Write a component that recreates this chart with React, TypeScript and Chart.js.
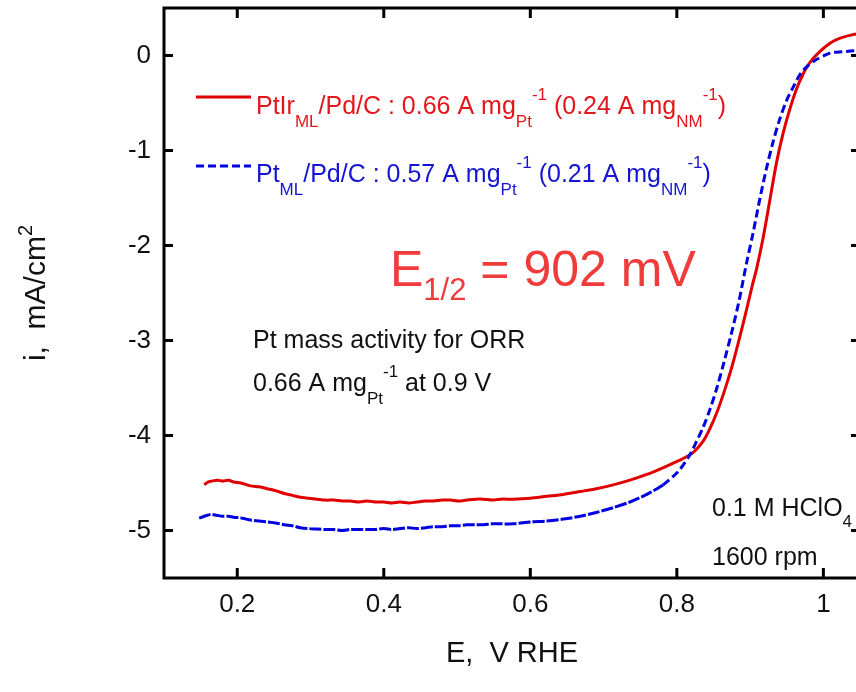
import React, { useEffect, useRef } from "react";
import { Chart, registerables } from "chart.js";

Chart.register(...registerables);

const FONT = '"Liberation Sans", Arial, Helvetica, sans-serif';

// PtIr_ML/Pd/C (red, solid)
const ptIrE = [
  0.155, 0.16, 0.165, 0.173, 0.18, 0.188, 0.195, 0.205, 0.218, 0.23, 0.241, 0.252, 0.264, 0.275, 0.286,
  0.298, 0.309, 0.32, 0.332, 0.343, 0.354, 0.366, 0.377, 0.388, 0.4, 0.411, 0.422, 0.434, 0.445, 0.457,
  0.468, 0.48, 0.491, 0.502, 0.513, 0.525, 0.536, 0.548, 0.559, 0.577, 0.6, 0.622, 0.645, 0.668, 0.69,
  0.713, 0.736, 0.759, 0.781, 0.804, 0.822, 0.836, 0.845, 0.855, 0.865, 0.875, 0.885, 0.895, 0.903,
  0.909, 0.918, 0.927, 0.936, 0.945, 0.954, 0.963, 0.972, 0.981, 0.995, 1.009, 1.022, 1.04, 1.05,
];
const ptIrI = [
  -4.52, -4.49, -4.48, -4.47, -4.48, -4.47, -4.49, -4.5, -4.53, -4.54, -4.56, -4.58, -4.61, -4.63, -4.65,
  -4.66, -4.67, -4.68, -4.68, -4.69, -4.69, -4.7, -4.69, -4.7, -4.7, -4.71, -4.7, -4.71, -4.7, -4.69,
  -4.69, -4.68, -4.68, -4.69, -4.68, -4.67, -4.67, -4.68, -4.67, -4.67, -4.66, -4.64, -4.62, -4.59, -4.56,
  -4.52, -4.47, -4.41, -4.34, -4.26, -4.18, -4.06, -3.93, -3.75, -3.53, -3.28, -2.99, -2.68, -2.42,
  -2.24, -1.91, -1.52, -1.13, -0.82, -0.57, -0.36, -0.2, -0.08, 0.04, 0.13, 0.18, 0.22, 0.23,
];

// Pt_ML/Pd/C (blue, dashed)
const ptE = [
  0.148, 0.155, 0.164, 0.172, 0.18, 0.188, 0.195, 0.207, 0.218, 0.23, 0.241, 0.252, 0.264, 0.275, 0.286,
  0.298, 0.309, 0.32, 0.332, 0.343, 0.354, 0.366, 0.377, 0.388, 0.4, 0.411, 0.422, 0.434, 0.445, 0.457,
  0.468, 0.48, 0.491, 0.502, 0.513, 0.525, 0.536, 0.548, 0.559, 0.577, 0.6, 0.622, 0.645, 0.668, 0.69,
  0.713, 0.736, 0.759, 0.781, 0.795, 0.804, 0.818, 0.827, 0.835, 0.845, 0.855, 0.865, 0.875, 0.885,
  0.895, 0.904, 0.913, 0.922, 0.931, 0.94, 0.95, 0.959, 0.968, 0.977, 0.99, 1.009, 1.027, 1.043, 1.05,
];
const ptI = [
  -4.87, -4.85, -4.83, -4.84, -4.85, -4.85, -4.86, -4.87, -4.89, -4.9, -4.91, -4.92, -4.94, -4.95, -4.97,
  -4.98, -4.985, -4.99, -4.99, -5.0, -4.99, -4.99, -4.99, -4.99, -4.98, -4.99, -4.98, -4.97, -4.98, -4.97,
  -4.96, -4.96, -4.95, -4.95, -4.94, -4.94, -4.94, -4.93, -4.93, -4.93, -4.91, -4.9, -4.88, -4.85, -4.81,
  -4.76, -4.7, -4.62, -4.52, -4.43, -4.36, -4.2, -4.06, -3.93, -3.73, -3.49, -3.21, -2.91, -2.58,
  -2.19, -1.87, -1.52, -1.2, -0.92, -0.68, -0.47, -0.33, -0.2, -0.12, -0.045, 0.025, 0.04, 0.05, 0.05,
];

const xTickValues = [0.2, 0.4, 0.6, 0.8, 1];
const xTickLabels = ["0.2", "0.4", "0.6", "0.8", "1"];
const yTickValues = [0, -1, -2, -3, -4, -5];
const yTickLabels = ["0", "-1", "-2", "-3", "-4", "-5"];

const X_MIN = 0.1;
const X_MAX = 1.05;
const Y_MIN = -5.5;
const Y_MAX = 0.5;

const RED = "#e00000";
const BLUE = "#0000e0";

type Part = { t: string; s?: "sub" | "sup" };
type RichOpts = { small?: number; subDy?: number; supDy?: number };

function partFont(p: Part, size: number, o: RichOpts) {
  const small = Math.round(size * (o.small ?? 0.66));
  return `${p.s ? small : size}px ${FONT}`;
}

function drawRich(
  ctx: CanvasRenderingContext2D,
  x: number,
  y: number,
  parts: Part[],
  size: number,
  color: string,
  o: RichOpts = {}
) {
  let cx = x;
  ctx.fillStyle = color;
  ctx.textAlign = "left";
  ctx.textBaseline = "alphabetic";
  for (const p of parts) {
    ctx.font = partFont(p, size, o);
    const dy = p.s === "sub" ? size * (o.subDy ?? 0.5) : p.s === "sup" ? -size * (o.supDy ?? 0.55) : 0;
    ctx.fillText(p.t, cx, y + dy);
    cx += ctx.measureText(p.t).width;
  }
  return cx - x;
}

function richWidth(ctx: CanvasRenderingContext2D, parts: Part[], size: number, o: RichOpts = {}) {
  let w = 0;
  for (const p of parts) {
    ctx.font = partFont(p, size, o);
    w += ctx.measureText(p.t).width;
  }
  return w;
}

const legendRed: Part[] = [
  { t: "PtIr" }, { t: "ML", s: "sub" }, { t: "/Pd/C : 0.66 A mg" }, { t: "Pt", s: "sub" }, { t: "-1", s: "sup" },
  { t: " (0.24 A mg" }, { t: "NM", s: "sub" }, { t: "-1", s: "sup" }, { t: ")" },
];
const legendBlue: Part[] = [
  { t: "Pt" }, { t: "ML", s: "sub" }, { t: "/Pd/C : 0.57 A mg" }, { t: "Pt", s: "sub" }, { t: "-1", s: "sup" },
  { t: " (0.21 A mg" }, { t: "NM", s: "sub" }, { t: "-1", s: "sup" }, { t: ")" },
];
const halfWave: Part[] = [{ t: "E" }, { t: "1/2", s: "sub" }, { t: " = 902 mV" }];
const massLine1: Part[] = [{ t: "Pt mass activity for ORR" }];
const massLine2: Part[] = [{ t: "0.66 A mg" }, { t: "Pt", s: "sub" }, { t: "-1", s: "sup" }, { t: " at 0.9 V" }];
const cond1: Part[] = [{ t: "0.1 M HClO" }, { t: "4", s: "sub" }];
const cond2: Part[] = [{ t: "1600 rpm" }];
const yTitle: Part[] = [{ t: "i,  mA/cm" }, { t: "2", s: "sup" }];
const xTitle: Part[] = [{ t: "E,  V RHE" }];

const framePlugin = {
  id: "frame",
  afterDraw(chart: any) {
    const { ctx, chartArea: a, scales } = chart;
    ctx.save();
    ctx.strokeStyle = "#000";
    ctx.lineWidth = 3;
    ctx.lineCap = "butt";
    ctx.strokeRect(a.left, a.top, a.right - a.left, a.bottom - a.top);
    ctx.beginPath();
    for (const v of xTickValues) {
      const px = scales.x.getPixelForValue(v);
      ctx.moveTo(px, a.bottom);
      ctx.lineTo(px, a.bottom - 10);
      ctx.moveTo(px, a.top);
      ctx.lineTo(px, a.top + 10);
    }
    for (const v of yTickValues) {
      const py = scales.y.getPixelForValue(v);
      ctx.moveTo(a.left, py);
      ctx.lineTo(a.left + 9, py);
      ctx.moveTo(a.right, py);
      ctx.lineTo(a.right - 9, py);
    }
    ctx.stroke();

    // legend
    ctx.lineWidth = 3;
    ctx.strokeStyle = RED;
    ctx.setLineDash([]);
    ctx.beginPath();
    ctx.moveTo(196, 97);
    ctx.lineTo(251, 97);
    ctx.stroke();
    ctx.strokeStyle = BLUE;
    ctx.setLineDash([8, 4]);
    ctx.beginPath();
    ctx.moveTo(196, 166);
    ctx.lineTo(251, 166);
    ctx.stroke();
    ctx.setLineDash([]);

    drawRich(ctx, 256, 114, legendRed, 25, "#e3161b");
    drawRich(ctx, 256, 182, legendBlue, 25, "#1414d2");

    drawRich(ctx, 390, 286, halfWave, 50, "#ef3b3b", { small: 0.62, subDy: 0.28 });

    drawRich(ctx, 253, 348, massLine1, 25, "#111");
    drawRich(ctx, 253, 391, massLine2, 25, "#111");

    drawRich(ctx, 712, 516, cond1, 25, "#111", { subDy: 0.45 });
    drawRich(ctx, 712, 565, cond2, 25, "#111");

    // axis titles
    const xw = richWidth(ctx, xTitle, 29);
    drawRich(ctx, (a.left + a.right) / 2 - xw / 2, 662, xTitle, 29, "#111");
    ctx.save();
    ctx.translate(45, (a.top + a.bottom) / 2);
    ctx.rotate(-Math.PI / 2);
    const yw = richWidth(ctx, yTitle, 30);
    drawRich(ctx, -yw / 2, 0, yTitle, 30, "#111", { supDy: 0.42 });
    ctx.restore();

    ctx.restore();
  },
};

export default function App() {
  const ref = useRef<HTMLCanvasElement | null>(null);
  useEffect(() => {
    if (!ref.current) return;
    const red = ptIrE.map((x, i) => ({ x, y: ptIrI[i] }));
    const blue = ptE.map((x, i) => ({ x, y: ptI[i] }));
    const chart = new Chart(ref.current, {
      type: "scatter",
      data: {
        datasets: [
          {
            label: "Pt_ML/Pd/C",
            data: blue,
            showLine: true,
            borderColor: BLUE,
            borderWidth: 3,
            pointRadius: 0,
            tension: 0.3,
            segment: {
              borderDash: (c: any) => (c.p0.parsed.x > 0.78 ? [8, 4] : [12, 2]),
            },
          } as any,
          {
            label: "PtIr_ML/Pd/C",
            data: red,
            showLine: true,
            borderColor: RED,
            borderWidth: 3,
            pointRadius: 0,
            tension: 0.3,
          } as any,
        ],
      },
      options: {
        animation: false,
        responsive: false,
        devicePixelRatio: 1,
        layout: { padding: { left: 0, right: 40, top: 8, bottom: 0 } },
        plugins: { legend: { display: false }, tooltip: { enabled: false } },
        scales: {
          x: {
            type: "linear",
            position: "bottom",
            min: X_MIN,
            max: X_MAX,
            grid: { display: false, drawTicks: false },
            border: { display: false },
            afterBuildTicks: (s: any) => {
              s.ticks = xTickValues.map((v) => ({ value: v }));
            },
            afterFit: (s: any) => {
              s.height = 114;
              s.paddingLeft = 0;
              s.paddingRight = 0;
            },
            ticks: {
              autoSkip: false,
              maxRotation: 0,
              padding: 11,
              color: "#111",
              font: { family: FONT, size: 26 },
              callback: (_v: any, i: number) => xTickLabels[i],
            },
          },
          y: {
            type: "linear",
            position: "left",
            min: Y_MIN,
            max: Y_MAX,
            grid: { display: false, drawTicks: false },
            border: { display: false },
            afterBuildTicks: (s: any) => {
              s.ticks = yTickValues.map((v) => ({ value: v }));
            },
            afterFit: (s: any) => {
              s.width = 164;
              s.paddingTop = 0;
              s.paddingBottom = 0;
            },
            ticks: {
              autoSkip: false,
              padding: 13,
              color: "#111",
              font: { family: FONT, size: 26 },
              callback: (_v: any, i: number) => yTickLabels[i],
            },
          },
        },
      },
      plugins: [framePlugin],
    });
    return () => chart.destroy();
  }, []);
  return (
    <div
      style={{
        position: "fixed",
        left: 0,
        top: 0,
        width: 856,
        height: 692,
        overflow: "hidden",
        background: "#fff",
      }}
    >
      <canvas ref={ref} width={900} height={692} style={{ display: "block", width: 900, height: 692 }} />
    </div>
  );
}
